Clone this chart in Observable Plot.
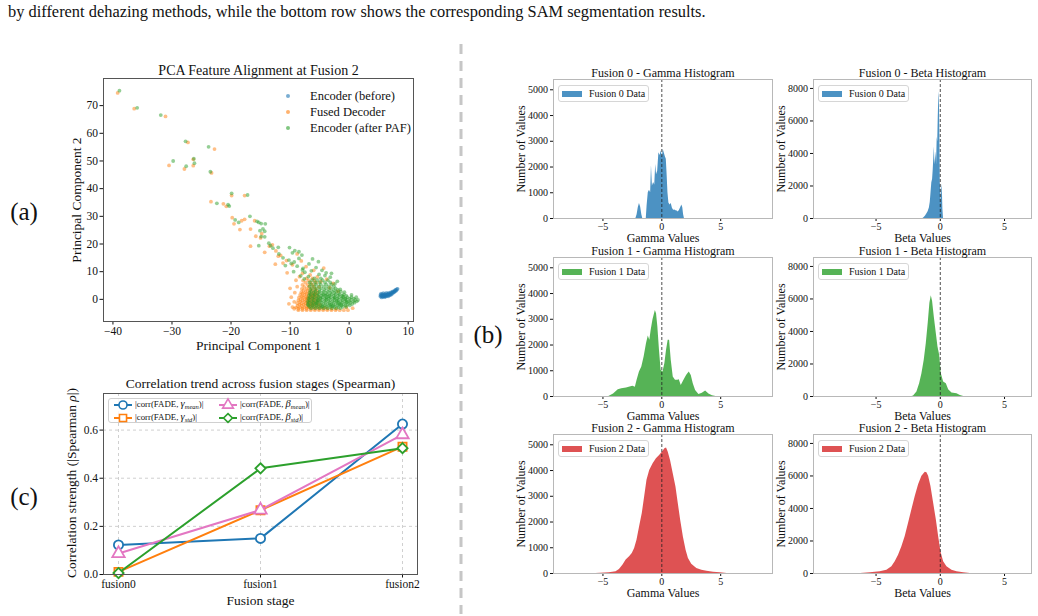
<!DOCTYPE html>
<html>
<head>
<meta charset="utf-8">
<script src="https://cdn.jsdelivr.net/npm/d3@7"></script>
<script src="https://cdn.jsdelivr.net/npm/@observablehq/plot@0.6"></script>
<style>
  html, body { margin: 0; padding: 0; background: #fff; }
  #page { position: relative; width: 1038px; height: 616px; overflow: hidden;
          font-family: "Liberation Serif", "Times New Roman", serif; color: #111; }
  #page svg { display: block; }
  .ctr { transform: translate(-50%, -50%); white-space: nowrap; }
  .rot { transform: translate(-50%, -50%) rotate(-90deg); white-space: nowrap; }
</style>
</head>
<body>
<div id="page"></div>
<script>
// ---------- (a) PCA feature alignment at fusion 2 ----------
const pcaLabels = ["Encoder (before)", "Fused Decoder", "Encoder (after PAF)"];

const pcaBlue = [
  [5.3,1.0],[5.3,1.6],[5.4,2.1],[5.5,0.7],[5.5,1.3],[5.6,1.9],[5.7,0.9],[5.7,1.5],[5.8,2.2],[5.9,1.1],
  [5.9,1.7],[6.0,0.8],[6.1,1.4],[6.1,2.0],[6.2,1.0],[6.3,1.6],[6.3,2.3],[6.4,1.2],[6.5,1.9],[6.5,1.5],
  [6.6,1.1],[6.7,1.7],[6.7,2.3],[6.8,1.4],[6.9,2.0],[7.0,1.6],[7.0,2.5],[7.1,2.1],[7.2,1.8],[7.3,2.6],
  [7.3,2.2],[7.4,2.9],[7.5,2.4],[7.6,2.8],[7.7,3.1],[7.8,2.9],[7.9,3.4],[8.0,3.2],[8.1,3.7],[8.2,3.8],
  [6.0,1.2],[5.6,1.1],[6.9,1.8],[7.6,2.6],[5.4,1.4],[6.2,1.7],[6.6,2.0],[7.2,2.4],[7.8,3.3],[5.8,1.3]
];

const pcaOrange = [
  // sparse upper-left trail
  [-39.2,74.6],[-36.4,68.9],[-31.1,66.1],[-27.3,56.7],[-22.8,54.3],[-30.5,48.4],[-26.4,50.6],[-27.9,47.1],
  [-26.4,48.3],[-23.3,45.7],[-19.9,37.5],[-17.7,37.5],[-23.4,35.3],[-21.3,34.5],[-20.8,33.6],[-19.8,29.5],
  [-19.5,27.3],[-17.7,28.9],[-18.2,28.4],[-16.0,28.4],[-16.7,25.4],[-18.5,25.2],[-15.0,22.2],[-15.8,22.8],
  [-14.8,23.7],[-16.7,19.2],[-13.5,19.2],[-13.0,19.7],[-12.4,17.5],[-14.3,17.0],[-8.8,16.4],[-11.6,15.9],
  [-10.6,14.0],[-12.5,12.7],
  // scattered halo around the main cloud
  [-9.6,-2.8],[-10.2,-1.6],[-9.8,0.8],[-9.2,2.4],[-8.8,4.6],[-9.0,6.9],[-8.4,8.2],[-10.5,9.6],[-7.9,9.4],
  [-6.6,8.8],[-5.4,8.1],[-3.8,7.3],[-2.7,5.8],[-4.3,11.3],[-7.3,11.8],[-9.6,12.5],[-11.2,13.1],[-8.1,13.9],
  [-12.0,15.6],[-6.0,10.5],[-4.8,6.4],[-3.3,4.2],[-1.9,2.9],[-10.0,4.0],[-9.3,-0.9],[-0.5,-2.9],[0.6,-3.2],
  // main cloud
  [-8.6,-3.9],[-7.9,-3.9],[-7.2,-3.9],[-6.5,-3.9],[-5.8,-3.9],[-5.1,-3.9],[-4.4,-3.9],[-3.7,-3.9],[-3.0,-3.9],[-2.3,-3.9],[-1.6,-3.9],[-0.9,-3.9],[-0.2,-3.9],
  [-9.3,-3.4],[-8.6,-3.4],[-7.9,-3.4],[-7.2,-3.4],[-6.5,-3.4],[-5.8,-3.4],[-5.1,-3.4],[-4.4,-3.4],[-3.7,-3.4],[-3.0,-3.4],[-2.2,-3.4],
  [-9.0,-2.9],[-8.3,-2.9],[-7.6,-2.9],[-6.9,-2.9],[-6.2,-2.9],[-5.5,-2.9],[-4.8,-2.9],[-4.1,-2.9],
  [-8.7,-2.4],[-8.0,-2.4],[-7.3,-2.4],[-6.6,-2.4],[-5.9,-2.4],[-5.2,-2.4],
  [-8.4,-1.9],[-7.7,-1.9],[-7.0,-1.9],[-6.3,-1.9],[-5.6,-1.9],[-4.9,-1.9],
  [-8.8,-1.4],[-8.1,-1.4],[-7.4,-1.4],[-6.7,-1.4],[-6.0,-1.4],[-5.3,-1.4],
  [-8.3,-0.9],[-7.6,-0.9],[-6.9,-0.9],[-6.2,-0.9],[-5.5,-0.9],
  [-8.6,-0.4],[-7.9,-0.4],[-7.2,-0.4],[-6.5,-0.4],[-5.8,-0.4],[-5.1,-0.4],
  [-8.2,0.1],[-7.5,0.1],[-6.8,0.1],[-6.1,0.1],[-5.4,0.1],
  [-8.5,0.6],[-7.8,0.6],[-7.1,0.6],[-6.4,0.6],[-5.7,0.6],
  [-8.0,1.1],[-7.3,1.1],[-6.6,1.1],[-5.9,1.1],[-5.2,1.1],
  [-8.3,1.6],[-7.6,1.6],[-6.9,1.6],[-6.2,1.6],[-5.5,1.6],
  [-7.9,2.1],[-7.2,2.1],[-6.5,2.1],[-5.8,2.1],
  [-8.1,2.6],[-7.4,2.6],[-6.7,2.6],[-6.0,2.6],[-5.3,2.6],
  [-7.7,3.2],[-7.0,3.2],[-6.3,3.2],[-5.6,3.2],
  [-8.0,3.8],[-7.2,3.8],[-6.5,3.8],[-5.7,3.8],
  [-7.6,4.5],[-6.8,4.5],[-6.0,4.5],[-5.1,4.5],
  [-7.9,5.2],[-7.0,5.2],[-6.2,5.2],
  [-7.4,6.0],[-6.5,6.0],[-5.6,6.0],
  [-7.8,6.8],[-6.9,6.8],[-5.9,6.8],
  [-7.2,7.6],[-6.2,7.6],
  // densest part of the cloud
  [-6.85,-2.65],[-6.25,-2.15],[-6.55,-1.65],[-5.95,-1.15],[-6.65,-0.65],[-6.05,-0.15],[-6.75,0.35],[-6.15,0.85],
  [-6.45,1.35],[-5.85,1.85],[-7.05,-1.1],[-7.15,0.3]
];

const pcaGreen = [
  // sparse upper-left trail
  [-38.9,75.4],[-35.9,69.2],[-31.9,66.6],[-27.7,57.1],[-23.8,55.1],[-29.8,50.0],[-26.3,50.8],[-27.6,48.1],
  [-26.2,49.2],[-23.5,46.1],[-19.9,38.3],[-17.2,37.7],[-22.4,34.7],[-20.5,34.2],[-20.3,33.7],[-19.3,28.7],
  [-18.7,27.8],[-16.8,30.0],[-15.3,27.8],[-15.6,28.2],[-14.9,27.4],[-14.2,27.3],[-14.6,25.5],[-14.3,24.6],
  [-15.1,24.8],[-14.9,22.7],[-14.3,22.6],[-13.6,20.3],[-13.3,19.4],[-12.9,18.5],[-12.0,18.8],[-10.1,18.7],
  [-9.2,17.6],[-8.5,17.2],[-15.3,19.4],[-11.2,15.0],[-9.8,13.0],[-11.9,16.4],
  // scattered halo around the main cloud
  [-8.2,8.5],[-7.5,9.8],[-6.4,10.3],[-5.1,9.0],[-3.2,8.0],[-2.0,6.5],[-8.8,12.0],[-7.8,11.2],[-9.3,13.5],
  [-6.8,12.8],[-5.2,13.6],[-4.6,10.5],[-10.2,14.2],[-8.5,14.8],[-3.9,9.6],
  [-2.4,5.6],[-1.5,3.6],[-0.8,2.6],[0.4,1.6],[1.2,0.8],[-7.6,7.4],[-6.9,8.2],[-4.1,8.6],[-3.0,9.4],
  [-7.9,10.6],[-5.6,11.5],[-9.4,10.0],[-10.8,12.2],[-6.2,14.6],[-8.0,16.0],[-9.6,16.8],
  // main cloud
  [-6.4,-3.2],[-5.7,-3.2],[-5.0,-3.2],[-4.3,-3.2],[-3.6,-3.2],[-2.9,-3.2],[-2.2,-3.2],[-1.5,-3.2],
  [-6.7,-2.7],[-6.0,-2.7],[-5.3,-2.7],[-4.6,-2.7],[-3.9,-2.7],[-3.2,-2.7],[-2.5,-2.7],[-1.8,-2.7],[-1.1,-2.7],[-0.5,-2.7],
  [-6.9,-2.2],[-6.2,-2.2],[-5.5,-2.2],[-4.8,-2.2],[-4.1,-2.2],[-3.4,-2.2],[-2.7,-2.2],[-2.0,-2.2],[-1.3,-2.2],[-0.6,-2.2],[0.1,-2.2],
  [-7.0,-1.7],[-6.4,-1.7],[-5.8,-1.7],[-5.1,-1.7],[-4.4,-1.7],[-3.7,-1.7],[-3.0,-1.7],[-2.3,-1.7],[-1.6,-1.7],[-0.9,-1.7],[-0.2,-1.7],[0.5,-1.7],
  [-6.8,-1.2],[-6.1,-1.2],[-5.4,-1.2],[-4.7,-1.2],[-4.0,-1.2],[-3.3,-1.2],[-2.6,-1.2],[-1.9,-1.2],[-1.2,-1.2],[-0.5,-1.2],[0.2,-1.2],[0.9,-1.2],
  [-7.0,-0.7],[-6.3,-0.7],[-5.6,-0.7],[-4.9,-0.7],[-4.2,-0.7],[-3.5,-0.7],[-2.8,-0.7],[-2.1,-0.7],[-1.4,-0.7],[-0.7,-0.7],[0.0,-0.7],[0.7,-0.7],[1.3,-0.7],
  [-6.7,-0.2],[-6.0,-0.2],[-5.3,-0.2],[-4.6,-0.2],[-3.9,-0.2],[-3.2,-0.2],[-2.5,-0.2],[-1.8,-0.2],[-1.1,-0.2],[-0.4,-0.2],[0.3,-0.2],[1.0,-0.2],[1.5,-0.2],
  [-6.9,0.3],[-6.2,0.3],[-5.5,0.3],[-4.8,0.3],[-4.1,0.3],[-3.4,0.3],[-2.7,0.3],[-2.0,0.3],[-1.3,0.3],[-0.6,0.3],[0.1,0.3],[0.8,0.3],
  [-6.6,0.8],[-5.9,0.8],[-5.2,0.8],[-4.5,0.8],[-3.8,0.8],[-3.1,0.8],[-2.4,0.8],[-1.7,0.8],[-1.0,0.8],[-0.3,0.8],[0.4,0.8],
  [-6.8,1.3],[-6.1,1.3],[-5.4,1.3],[-4.7,1.3],[-4.0,1.3],[-3.3,1.3],[-2.6,1.3],[-1.9,1.3],[-1.2,1.3],[-0.5,1.3],
  [-6.5,1.8],[-5.8,1.8],[-5.1,1.8],[-4.4,1.8],[-3.7,1.8],[-3.0,1.8],[-2.3,1.8],[-1.6,1.8],[-0.9,1.8],
  [-6.7,2.3],[-6.0,2.3],[-5.3,2.3],[-4.6,2.3],[-3.9,2.3],[-3.2,2.3],[-2.5,2.3],[-1.8,2.3],
  [-6.4,2.8],[-5.7,2.8],[-5.0,2.8],[-4.3,2.8],[-3.6,2.8],[-2.9,2.8],[-2.2,2.8],[-1.4,2.8],
  [-6.6,3.4],[-5.8,3.4],[-5.0,3.4],[-4.2,3.4],[-3.4,3.4],[-2.6,3.4],[-1.9,3.4],
  [-6.3,4.0],[-5.5,4.0],[-4.7,4.0],[-3.9,4.0],[-3.1,4.0],[-2.3,4.0],
  [-6.7,4.7],[-5.9,4.7],[-5.1,4.7],[-4.3,4.7],[-3.5,4.7],[-2.6,4.7],
  [-6.4,5.4],[-5.6,5.4],[-4.8,5.4],[-3.9,5.4],[-3.0,5.4],
  [-6.7,6.1],[-5.8,6.1],[-5.0,6.1],[-4.1,6.1],[-3.2,6.1],
  [-6.3,6.9],[-5.4,6.9],[-4.5,6.9],[-3.6,6.9],
  [-5.9,7.6],[-4.8,7.6],
  // extra density in the core band
  [-4.55,-2.45],[-3.15,-1.95],[-1.75,-1.45],[-0.35,-0.95],[-5.25,-0.45],[-3.85,0.05],[-2.45,0.55],[-1.05,1.05],
  [-4.2,1.55],[-2.8,-2.45],[-1.4,-1.95],[-5.6,-1.45],[-2.1,-0.45],[-0.7,0.05],[-4.9,0.55],[-3.5,1.05]
];

// ---------- (c) Spearman correlation across fusion stages ----------
const stages = ["fusion0", "fusion1", "fusion2"];
const corrGammaMean = [0.123, 0.150, 0.625];
const corrGammaStd  = [0.011, 0.267, 0.531];
const corrBetaMean  = [0.087, 0.268, 0.581];
const corrBetaStd   = [0.006, 0.441, 0.525];

// ---------- (b) gamma / beta histograms: [value, count] ----------
const gamma0 = [[-2.2,0],[-2.1,150],[-2.0,420],[-1.9,580],[-1.8,450],[-1.7,150],[-1.62,0],[-1.32,0],[-1.25,500],
  [-1.15,1000],[-1.05,1100],[-0.95,1000],[-0.88,2050],[-0.8,1250],[-0.7,1400],[-0.6,1300],[-0.52,2100],[-0.45,1700],
  [-0.35,1850],[-0.25,2550],[-0.15,2450],[-0.05,2620],[0.05,2400],[0.12,2680],[0.2,2550],[0.3,2400],[0.38,2300],
  [0.45,1700],[0.52,1000],[0.6,600],[0.7,520],[0.8,580],[0.9,400],[1.0,320],[1.1,330],[1.2,300],[1.3,290],[1.4,250],
  [1.5,320],[1.6,420],[1.7,520],[1.78,420],[1.85,150],[1.92,0]];
const beta0 = [[-1.35,0],[-1.25,60],[-1.15,150],[-1.05,280],[-0.95,420],[-0.85,650],[-0.78,1000],[-0.72,1600],
  [-0.66,2200],[-0.6,2400],[-0.55,3000],[-0.5,3800],[-0.46,4400],[-0.42,3300],[-0.37,3700],[-0.33,4100],[-0.29,3300],
  [-0.24,5000],[-0.2,4700],[-0.16,6200],[-0.12,7400],[-0.09,7800],[-0.06,6800],[-0.03,5000],[0.0,2200],[0.04,1700],
  [0.08,900],[0.12,2100],[0.16,1800],[0.2,600],[0.25,0]];
const gamma1 = [[-4.5,0],[-4.1,100],[-3.7,260],[-3.4,300],[-3.0,330],[-2.7,365],[-2.45,400],[-2.25,360],[-2.1,630],
  [-1.9,950],[-1.7,1150],[-1.5,1540],[-1.3,2060],[-1.15,2350],[-1.02,2190],[-0.9,2580],[-0.75,2980],[-0.55,3340],
  [-0.45,3210],[-0.34,2720],[-0.2,1800],[-0.06,1020],[0.1,950],[0.26,1280],[0.4,1800],[0.54,2190],[0.66,2190],
  [0.8,1410],[0.97,760],[1.16,630],[1.36,630],[1.48,650],[1.65,430],[1.88,630],[2.1,820],[2.33,950],[2.5,820],
  [2.67,500],[2.87,235],[3.15,80],[3.44,130],[3.72,210],[4.0,100],[4.3,25],[4.6,0]];
const beta1 = [[-2.2,0],[-2.08,30],[-1.82,270],[-1.61,780],[-1.43,1400],[-1.25,2230],[-1.09,3260],[-0.94,4500],
  [-0.81,5730],[-0.7,6190],[-0.6,5840],[-0.47,4910],[-0.31,3880],[-0.18,3050],[-0.05,2540],[0.08,1400],[0.26,890],
  [0.47,780],[0.65,410],[0.91,210],[1.3,165],[1.56,60],[1.82,0]];
const gamma2 = [[-5.6,0],[-4.46,25],[-3.89,65],[-3.6,155],[-3.31,320],[-3.03,520],[-2.74,650],[-2.51,775],[-2.31,970],
  [-2.11,1290],[-1.89,1810],[-1.66,2330],[-1.46,2970],[-1.26,3620],[-1.03,4005],[-0.74,4260],[-0.46,4460],[-0.17,4590],
  [0.06,4720],[0.26,4850],[0.4,4880],[0.54,4720],[0.74,4390],[0.97,3880],[1.2,3360],[1.4,2710],[1.6,2070],[1.83,1420],
  [2.06,900],[2.26,580],[2.54,360],[2.97,195],[3.4,130],[3.83,90],[4.4,50],[4.97,25],[5.54,0]];
const beta2 = [[-6.2,0],[-5.45,40],[-4.68,100],[-4.16,205],[-3.77,410],[-3.51,720],[-3.25,1130],[-2.99,1650],
  [-2.73,2270],[-2.47,3090],[-2.21,3920],[-1.95,4740],[-1.69,5460],[-1.43,5980],[-1.17,6230],[-1.04,6190],[-0.91,5980],
  [-0.73,5360],[-0.52,4330],[-0.31,3300],[-0.13,2270],[0.05,1340],[0.26,720],[0.52,410],[0.91,205],[1.3,100],
  [1.82,40],[2.34,0]];

const gammaTicks = [0, 1000, 2000, 3000, 4000, 5000];
const betaTicks = [0, 2000, 4000, 6000, 8000];
const valueTicks = [-5, 0, 5];

// ---------- helpers ----------
const serif = '"Liberation Serif", "Times New Roman", serif';
const page = document.getElementById("page");
const C = {blue: "#1f77b4", orange: "#ff7f0e", green: "#2ca02c", red: "#d62728", pink: "#e377c2"};
const plain = d3.format("d");

function put(node, left, top) {
  node.style.position = "absolute";
  node.style.left = left + "px";
  node.style.top = top + "px";
  page.appendChild(node);
  return node;
}
function label(content, left, top, css = {}, cls = "") {
  const d = document.createElement("div");
  d.innerHTML = content;
  if (cls) d.className = cls;
  Object.assign(d.style, css);
  return put(d, left, top);
}
const baseStyle = (size) => ({fontFamily: serif, fontSize: size, color: "#111", background: "transparent", overflow: "visible"});
// centred text placed relative to the plot frame
const frameText = (str, opts) => Plot.text([str], {text: d => d, lineAnchor: "middle", textAnchor: "middle", ...opts});

// caption line and panel tags
label("by different dehazing methods, while the bottom row shows the corresponding SAM segmentation results.",
      8, 12, {fontSize: "16.4px", whiteSpace: "nowrap", transform: "translateY(-50%)"});
label("(a)", 24, 212, {fontSize: "25px"}, "ctr");
label("(b)", 488, 335, {fontSize: "25px"}, "ctr");
label("(c)", 24, 497, {fontSize: "25px"}, "ctr");

// dashed divider between the left and right halves
{
  const ns = "http://www.w3.org/2000/svg";
  const s = document.createElementNS(ns, "svg");
  s.setAttribute("width", 6); s.setAttribute("height", 570);
  const l = document.createElementNS(ns, "line");
  l.setAttribute("x1", 3); l.setAttribute("x2", 3); l.setAttribute("y1", 0); l.setAttribute("y2", 570);
  l.setAttribute("stroke", "#c6c6c6"); l.setAttribute("stroke-width", 3); l.setAttribute("stroke-dasharray", "10,7");
  s.appendChild(l);
  put(s, 458, 44);
}

// ---------- (a) PCA scatter ----------
{
  const dotOpts = (fill) => ({x: d => d[0], y: d => d[1], r: 1.9, fill, fillOpacity: 0.5});
  const svg = Plot.plot({
    width: 390, height: 300, marginLeft: 63, marginRight: 17, marginTop: 23, marginBottom: 34,
    style: baseStyle("11.5px"),
    x: {domain: [-41.6, 10.9], ticks: [-40, -30, -20, -10, 0, 10], tickSize: 3.5, tickPadding: 2, label: null},
    y: {domain: [-8, 79.8], ticks: [0, 10, 20, 30, 40, 50, 60, 70], tickSize: 3.5, tickPadding: 2, label: null},
    marks: [
      Plot.dot(pcaBlue, dotOpts(C.blue)),
      Plot.dot(pcaOrange, dotOpts(C.orange)),
      Plot.dot(pcaGreen, dotOpts(C.green)),
      Plot.frame({stroke: "#555"}),
      frameText("PCA Feature Alignment at Fusion 2", {frameAnchor: "top", dy: -8, fontSize: 14}),
      frameText("Principal Component 1", {frameAnchor: "bottom", dy: 24, fontSize: 13.5}),
      frameText("Principal Component 2", {frameAnchor: "left", dx: -27, rotate: -90, fontSize: 13.5})
    ]
  });
  put(svg, 40, 55);
  [C.blue, C.orange, C.green].forEach((c, i) => {
    const y = 95.7 + 16 * i;
    label("", 286, y - 2, {width: "4px", height: "4px", borderRadius: "50%", background: c, opacity: 0.6});
    label(pcaLabels[i], 310, y, {fontSize: "12.5px", transform: "translateY(-50%)", whiteSpace: "nowrap"});
  });
}

// ---------- (c) correlation trend ----------
{
  const series = [
    {values: corrGammaMean, color: C.blue, symbol: "circle", sym: d3.symbolCircle, text: "|corr(FADE, <i>γ</i><sub><i>mean</i></sub>)|"},
    {values: corrGammaStd, color: C.orange, symbol: "square", sym: d3.symbolSquare, text: "|corr(FADE, <i>γ</i><sub><i>std</i></sub>)|"},
    {values: corrBetaMean, color: C.pink, symbol: "triangle", sym: d3.symbolTriangle, text: "|corr(FADE, <i>β</i><sub><i>mean</i></sub>)|"},
    {values: corrBetaStd, color: C.green, symbol: "diamond2", sym: d3.symbolDiamond2, text: "|corr(FADE, <i>β</i><sub><i>std</i></sub>)|"}
  ];
  const marks = [
    Plot.ruleY([0, 0.2, 0.4, 0.6], {stroke: "#c4c4c4", strokeWidth: 0.8, strokeDasharray: "3,3"}),
    Plot.ruleX(stages, {stroke: "#c4c4c4", strokeWidth: 0.8, strokeDasharray: "3,3"})
  ];
  for (const s of series) {
    const rows = stages.map((stage, i) => ({stage, value: s.values[i]}));
    marks.push(Plot.line(rows, {x: "stage", y: "value", stroke: s.color, strokeWidth: 2}));
    marks.push(Plot.dot(rows, {x: "stage", y: "value", symbol: () => s.symbol, r: 4.6, stroke: s.color, fill: "white", strokeWidth: 1.8}));
  }
  marks.push(
    Plot.frame({stroke: "#555"}),
    frameText("Correlation trend across fusion stages (Spearman)", {frameAnchor: "top", dy: -10, fontSize: 13.5}),
    frameText("Fusion stage", {frameAnchor: "bottom", dy: 26, fontSize: 13.5})
  );
  const svg = Plot.plot({
    width: 390, height: 240, marginLeft: 63, marginRight: 13, marginTop: 23, marginBottom: 36,
    style: baseStyle("11.5px"),
    x: {type: "point", domain: stages, padding: 0.1, tickSize: 3.5, tickPadding: 2, label: null},
    y: {domain: [0, 0.752], ticks: [0, 0.2, 0.4, 0.6], tickFormat: ".1f", tickSize: 3.5, tickPadding: 2, label: null},
    symbol: {type: "identity"},
    marks
  });
  put(svg, 40, 370);
  label("Correlation strength (|Spearman <i>ρ</i>|)", 72, 483, {fontSize: "13.5px"}, "rot");

  // legend box, two columns
  const box = label("", 108, 398, {width: "204px", height: "25px", boxSizing: "border-box",
    border: "1px solid #d0d0d0", borderRadius: "3px", background: "rgba(255,255,255,0.85)"});
  const pos = [[14, 6], [14, 19], [119, 6], [119, 19]];
  series.forEach((s, i) => {
    const [mx, my] = pos[i];
    const ns = "http://www.w3.org/2000/svg";
    const g = document.createElementNS(ns, "svg");
    g.setAttribute("width", 24); g.setAttribute("height", 14);
    g.style.position = "absolute"; g.style.left = (mx - 12) + "px"; g.style.top = (my - 7) + "px"; g.style.overflow = "visible";
    const ln = document.createElementNS(ns, "line");
    ln.setAttribute("x1", 3); ln.setAttribute("x2", 21); ln.setAttribute("y1", 7); ln.setAttribute("y2", 7);
    ln.setAttribute("stroke", s.color); ln.setAttribute("stroke-width", 2);
    const p = document.createElementNS(ns, "path");
    p.setAttribute("d", d3.symbol(s.sym, Math.PI * 4 * 4)());
    p.setAttribute("transform", "translate(12,7)");
    p.setAttribute("fill", "white"); p.setAttribute("stroke", s.color); p.setAttribute("stroke-width", 1.6);
    g.appendChild(ln); g.appendChild(p);
    box.appendChild(g);
    const t = document.createElement("div");
    t.innerHTML = s.text;
    Object.assign(t.style, {position: "absolute", left: (mx + 12) + "px", top: my + "px", transform: "translateY(-50%)",
      fontSize: "8.8px", whiteSpace: "nowrap", lineHeight: "10px"});
    box.appendChild(t);
  });
  box.querySelectorAll("sub").forEach(el => Object.assign(el.style, {fontSize: "6.5px", verticalAlign: "-2px"}));
  box.querySelectorAll("div > i:first-child").forEach(el => el.style.fontSize = "10.5px");
}

// ---------- (b) histogram grid ----------
function histPanel({data, color, stage, param, left, top, width, marginRight, xDomain, yDomain, yTicks}) {
  const svg = Plot.plot({
    width, height: 190, marginLeft: 53, marginRight, marginTop: 19, marginBottom: 32,
    style: baseStyle("10px"),
    x: {domain: xDomain, ticks: valueTicks, tickSize: 3, tickPadding: 1.5, label: null},
    y: {domain: yDomain, ticks: yTicks, tickFormat: plain, tickSize: 3, tickPadding: 2.5, label: null},
    marks: [
      Plot.areaY(data, {x: d => d[0], y: d => d[1], fill: color, fillOpacity: 0.8, curve: "linear"}),
      Plot.ruleX([0], {stroke: "#222", strokeWidth: 0.8, strokeDasharray: "3,2"}),
      Plot.frame({stroke: "#b8b8b8"}),
      frameText(`Fusion ${stage} - ${param} Histogram`, {frameAnchor: "top", dy: -6.5, fontSize: 12}),
      frameText(`${param} Values`, {frameAnchor: "bottom", dy: 19.5, fontSize: 12}),
      frameText("Number of Values", {frameAnchor: "left", dx: -32.5, rotate: -90, fontSize: 12})
    ]
  });
  put(svg, left, top);
  const fx = left + 53, fy = top + 19;
  const box = label("", fx + 5, fy + 6, {width: "91px", height: "17px", boxSizing: "border-box",
    border: "1px solid #d6d6d6", borderRadius: "3px", background: "rgba(255,255,255,0.85)"});
  const patch = document.createElement("div");
  Object.assign(patch.style, {position: "absolute", left: "3px", top: "4.5px", width: "20px", height: "6.5px", background: color, opacity: 0.8});
  box.appendChild(patch);
  const t = document.createElement("div");
  t.textContent = `Fusion ${stage} Data`;
  Object.assign(t.style, {position: "absolute", left: "30px", top: "0", lineHeight: "15px", fontSize: "10px", whiteSpace: "nowrap"});
  box.appendChild(t);
}

const rows = [
  {stage: 0, color: C.blue, top: 60, gamma: gamma0, beta: beta0},
  {stage: 1, color: C.green, top: 238, gamma: gamma1, beta: beta1},
  {stage: 2, color: C.red, top: 415, gamma: gamma2, beta: beta2}
];
for (const r of rows) {
  histPanel({data: r.gamma, color: r.color, stage: r.stage, param: "Gamma", left: 500, top: r.top, width: 280,
    marginRight: 8, xDomain: [-9.2, 9.4], yDomain: [0, 5400], yTicks: gammaTicks});
  histPanel({data: r.beta, color: r.color, stage: r.stage, param: "Beta", left: 760, top: r.top, width: 278,
    marginRight: 7, xDomain: [-9.87, 7.1], yDomain: [0, 8550], yTicks: betaTicks});
}
</script>
</body>
</html>
